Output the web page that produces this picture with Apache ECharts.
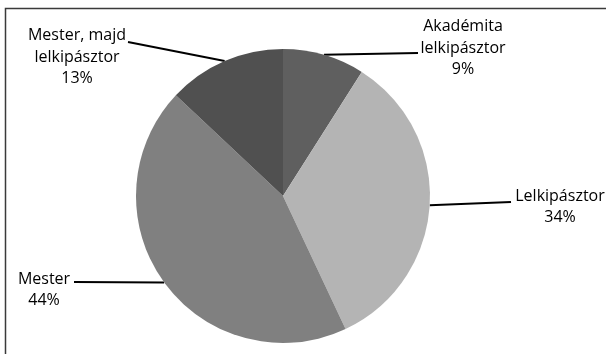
<!DOCTYPE html>
<html>
<head>
<meta charset="utf-8">
<script src="https://cdn.jsdelivr.net/npm/echarts@6/dist/echarts.min.js"></script>
<style>
  html, body { margin: 0; padding: 0; background: #fff; }
  #chart { width: 606px; height: 354px; }
</style>
</head>
<body>
<div id="chart"></div>
<script>
// Categories and their shares (%)
const categories = [
  'Akadémita\nlelkipásztor',
  'Lelkipásztor',
  'Mester',
  'Mester, majd\nlelkipásztor'
];
const values = [9, 34, 44, 13];

// Slice fills, in the same order as the categories
const sliceColors = ['#5f5f5f', '#b4b4b4', '#808080', '#505050'];

// Where each label block sits and where its leader line ends
const labelPlacement = [
  { x: 463, y: 48, lineEnd: [418, 53] },
  { x: 560, y: 207, lineEnd: [511, 202] },
  { x: 44, y: 290, lineEnd: [74, 282] },
  { x: 77, y: 57, lineEnd: [128, 42] }
];

const chart = echarts.init(document.getElementById('chart'), null, { renderer: 'canvas' });

chart.setOption({
  animation: false,
  backgroundColor: '#ffffff',
  graphic: [{
    type: 'rect',
    z: -1,
    shape: { x: 5.5, y: 8.5, width: 700, height: 400 },
    style: { fill: 'none', stroke: '#3a3a3a', lineWidth: 1.5 }
  }],
  series: [{
    type: 'pie',
    center: [283, 196],
    radius: 147,
    startAngle: 90,
    clockwise: true,
    data: categories.map((name, i) => ({
      name: name,
      value: values[i],
      itemStyle: { color: sliceColors[i] }
    })),
    label: {
      show: true,
      formatter: '{b}\n{d}%',
      color: '#000',
      fontFamily: 'Open Sans',
      fontSize: 16,
      lineHeight: 21.5,
      align: 'center'
    },
    labelLine: {
      show: true,
      lineStyle: { color: '#000', width: 2 }
    },
    labelLayout: function (params) {
      const p = labelPlacement[params.dataIndex];
      const start = params.labelLinePoints[0];
      return {
        x: p.x,
        y: p.y,
        align: 'center',
        verticalAlign: 'middle',
        labelLinePoints: [start, p.lineEnd, p.lineEnd]
      };
    },
    emphasis: { disabled: true }
  }]
});
</script>
</body>
</html>
